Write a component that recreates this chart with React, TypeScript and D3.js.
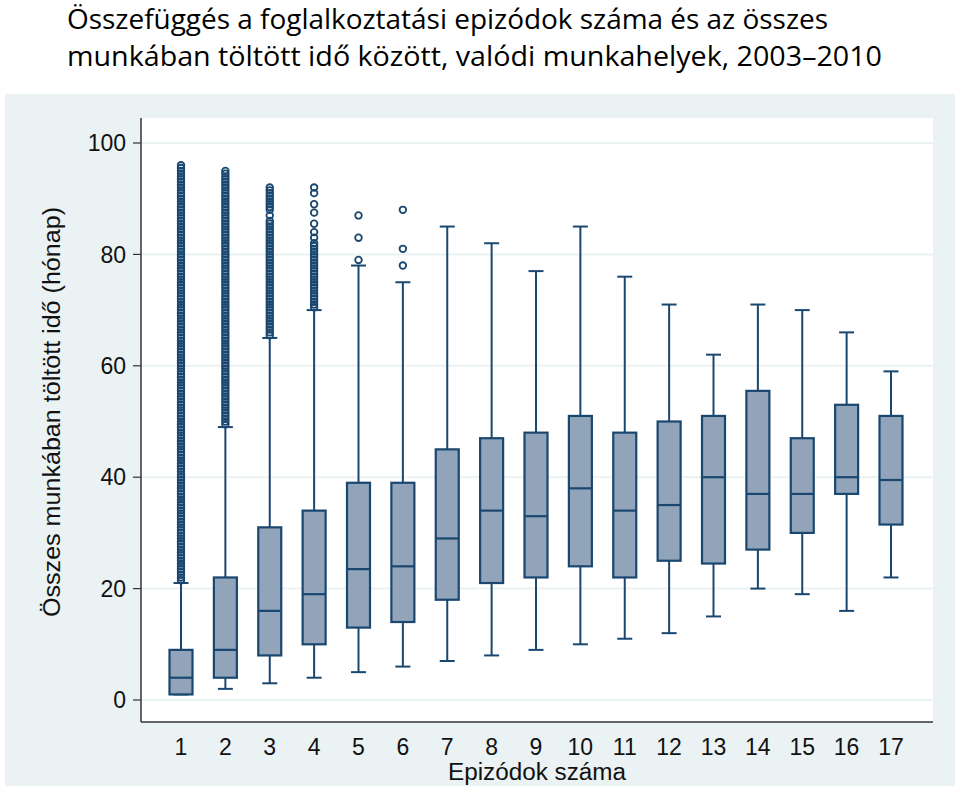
import React from "react";
import * as d3 from "d3";

const categories = ["1","2","3","4","5","6","7","8","9","10","11","12","13","14","15","16","17"];
const lowerWhisker = [1, 2, 3, 4, 5, 6, 7, 8, 9, 10, 11, 12, 15, 20, 19, 16, 22];
const q1 = [1, 4, 8, 10, 13, 14, 18, 21, 22, 24, 22, 25, 24.5, 27, 30, 37, 31.5];
const median = [4, 9, 16, 19, 23.5, 24, 29, 34, 33, 38, 34, 35, 40, 37, 37, 40, 39.5];
const q3 = [9, 22, 31, 34, 39, 39, 45, 47, 48, 51, 48, 50, 51, 55.5, 47, 53, 51];
const upperWhisker = [21, 49, 65, 70, 78, 75, 85, 82, 77, 85, 76, 71, 62, 71, 70, 66, 59];

const outliers1 = [21.5,22,22.5,23,23.5,24,24.5,25,25.5,26,26.5,27,27.5,28,28.5,29,29.5,30,30.5,31,31.5,32,32.5,33,33.5,34,34.5,35,35.5,36,36.5,37,37.5,38,38.5,39,39.5,40,40.5,41,41.5,42,42.5,43,43.5,44,44.5,45,45.5,46,46.5,47,47.5,48,48.5,49,49.5,50,50.5,51,51.5,52,52.5,53,53.5,54,54.5,55,55.5,56,56.5,57,57.5,58,58.5,59,59.5,60,60.5,61,61.5,62,62.5,63,63.5,64,64.5,65,65.5,66,66.5,67,67.5,68,68.5,69,69.5,70,70.5,71,71.5,72,72.5,73,73.5,74,74.5,75,75.5,76,76.5,77,77.5,78,78.5,79,79.5,80,80.5,81,81.5,82,82.5,83,83.5,84,84.5,85,85.5,86,86.5,87,87.5,88,88.5,89,89.5,90,90.5,91,91.5,92,92.5,93,93.5,94,94.5,95,95.5,96];
const outliers2 = [49.5,50,50.5,51,51.5,52,52.5,53,53.5,54,54.5,55,55.5,56,56.5,57,57.5,58,58.5,59,59.5,60,60.5,61,61.5,62,62.5,63,63.5,64,64.5,65,65.5,66,66.5,67,67.5,68,68.5,69,69.5,70,70.5,71,71.5,72,72.5,73,73.5,74,74.5,75,75.5,76,76.5,77,77.5,78,78.5,79,79.5,80,80.5,81,81.5,82,82.5,83,83.5,84,84.5,85,85.5,86,86.5,87,87.5,88,88.5,89,89.5,90,90.5,91,91.5,92,92.5,93,93.5,94,94.5,95];
const outliers3 = [65.5,66,66.5,67,67.5,68,68.5,69,69.5,70,70.5,71,71.5,72,72.5,73,73.5,74,74.5,75,75.5,76,76.5,77,77.5,78,78.5,79,79.5,80,80.5,81,81.5,82,82.5,83,83.5,84,84.5,85,85.5,86,87,88,88.5,89,89.5,90,90.5,91,91.5,92];
const outliers4 = [70.5,71,71.5,72,72.5,73,73.5,74,74.5,75,75.5,76,76.5,77,77.5,78,78.5,79,79.5,80,80.5,81,81.5,82,83,84,85.5,87.5,89,91,92];
const outliers5 = [79, 83, 87];
const outliers6 = [78, 81, 88];
const outlierSets = [outliers1, outliers2, outliers3, outliers4, outliers5, outliers6, [], [], [], [], [], [], [], [], [], [], []];

const yTicks = [0, 20, 40, 60, 80, 100];

const titleLines = [
  "Összefüggés a foglalkoztatási epizódok száma és az összes",
  "munkában töltött idő között, valódi munkahelyek, 2003–2010",
];
const xTitle = "Epizódok száma";
const yTitle = "Összes munkában töltött idő (hónap)";

const W = 960;
const H = 791;
const NAVY = "#1a476f";
const FILL = "#91a4b9";
const BG = "#eaf2f3";

export default function App() {
  const x = d3.scalePoint<string>().domain(categories).range([181, 891]);
  const y = d3.scaleLinear().domain([0, 100]).range([700, 143]);
  const plotLeft = 141, plotRight = 933, plotTop = 118, plotBottom = 722;
  const boxW = 23, capW = 15;
  const axisFont = "Liberation Sans, Arial, sans-serif";

  return (
    <svg width={W} height={H} style={{ position: "absolute", left: 0, top: 0, background: "#fff" }}>
      {titleLines.map((t, i) => (
        <text key={i} x={67} y={29 + i * 37} fontFamily="Open Sans, sans-serif" fontSize={27} fill="#000"
          textLength={i === 0 ? 761 : 815} lengthAdjust="spacingAndGlyphs">{t}</text>
      ))}
      <rect x={5} y={94} width={950} height={692} fill={BG} />
      <rect x={plotLeft} y={plotTop} width={plotRight - plotLeft} height={plotBottom - plotTop} fill="#fff" />
      {yTicks.map((t) => (
        <g key={t}>
          <line x1={plotLeft} x2={plotRight} y1={y(t)} y2={y(t)} stroke={BG} strokeWidth={2} />
          <line x1={plotLeft - 8} x2={plotLeft} y1={y(t)} y2={y(t)} stroke="#333" strokeWidth={1.2} />
          <text x={plotLeft - 15} y={y(t)} dy="0.36em" textAnchor="end" fontFamily={axisFont} fontSize={23} fill="#111">{t}</text>
        </g>
      ))}
      <line x1={plotLeft} x2={plotLeft} y1={plotTop} y2={plotBottom} stroke="#333" strokeWidth={1.5} />
      <line x1={plotLeft} x2={plotRight} y1={plotBottom} y2={plotBottom} stroke="#333" strokeWidth={1.5} />
      {categories.map((c) => (
        <text key={c} x={x(c)} y={755} textAnchor="middle" fontFamily={axisFont} fontSize={23} fill="#111">{c}</text>
      ))}
      <text x={537} y={780} textAnchor="middle" fontFamily={axisFont} fontSize={23} fill="#111"
        textLength={178} lengthAdjust="spacingAndGlyphs">{xTitle}</text>
      <text transform={`translate(60, 412) rotate(-90)`} textAnchor="middle" fontFamily={axisFont} fontSize={23} fill="#111"
        textLength={410} lengthAdjust="spacingAndGlyphs">{yTitle}</text>
      {categories.map((c, i) => {
        const cx = x(c) as number;
        return (
          <g key={c}>
            <line x1={cx} x2={cx} y1={y(q3[i])} y2={y(upperWhisker[i])} stroke={NAVY} strokeWidth={2} />
            <line x1={cx} x2={cx} y1={y(q1[i])} y2={y(lowerWhisker[i])} stroke={NAVY} strokeWidth={2} />
            <line x1={cx - capW / 2} x2={cx + capW / 2} y1={y(upperWhisker[i])} y2={y(upperWhisker[i])} stroke={NAVY} strokeWidth={2} />
            <line x1={cx - capW / 2} x2={cx + capW / 2} y1={y(lowerWhisker[i])} y2={y(lowerWhisker[i])} stroke={NAVY} strokeWidth={2} />
            <rect x={cx - boxW / 2} y={y(q3[i])} width={boxW} height={y(q1[i]) - y(q3[i])} fill={FILL} stroke={NAVY} strokeWidth={2.2} />
            <line x1={cx - boxW / 2} x2={cx + boxW / 2} y1={y(median[i])} y2={y(median[i])} stroke={NAVY} strokeWidth={2.2} />
            {outlierSets[i].map((v, k) => (
              <circle key={k} cx={cx} cy={y(v)} r={3.3} fill="none" stroke={NAVY} strokeWidth={1.8} />
            ))}
          </g>
        );
      })}
    </svg>
  );
}
